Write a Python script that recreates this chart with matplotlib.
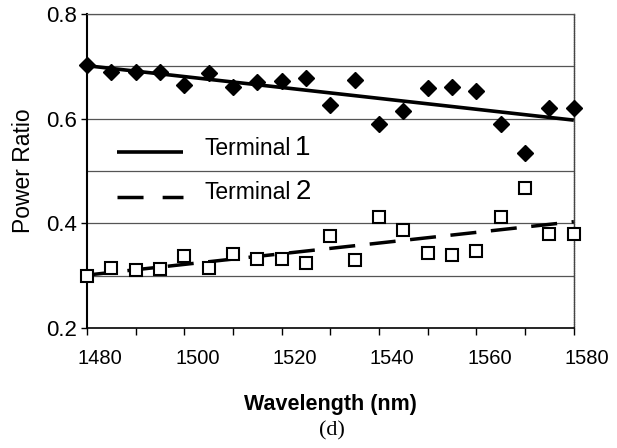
import numpy as np
import matplotlib
matplotlib.use("Agg")
import matplotlib.pyplot as plt
import matplotlib.transforms as mtransforms

plt.rcParams['font.family'] = 'Liberation Sans'

# wavelength grid (nm), one point every 5 nm
wavelength = [1480, 1485, 1490, 1495, 1500, 1505, 1510, 1515, 1520, 1525, 1530,
              1535, 1540, 1545, 1550, 1555, 1560, 1565, 1570, 1575, 1580]

terminal1 = [0.702, 0.689, 0.689, 0.689, 0.664, 0.688, 0.661, 0.669, 0.671, 0.678, 0.625,
             0.674, 0.589, 0.615, 0.658, 0.661, 0.653, 0.589, 0.534, 0.621, 0.621]
terminal2 = [0.299, 0.314, 0.311, 0.312, 0.338, 0.315, 0.341, 0.331, 0.332, 0.324, 0.376,
             0.330, 0.412, 0.387, 0.344, 0.339, 0.347, 0.412, 0.467, 0.379, 0.379]

# linear trend lines (end points)
trend_x = [1480, 1580]
trend1 = [0.701, 0.597]
trend2 = [0.301, 0.403]

xticks = list(range(1480, 1581, 10))
xlabels = [str(x) if (x - 1480) % 20 == 0 else "" for x in xticks]
yticks = [0.2, 0.4, 0.6, 0.8]
ygrid = [0.3, 0.4, 0.5, 0.6, 0.7, 0.8]

fig = plt.figure(figsize=(6.17, 4.48), dpi=100)
ax = fig.add_axes([0.141, 0.268, 0.789, 0.701])

for g in ygrid:
    ax.axhline(g, color='#555555', lw=0.9, zorder=1)

ax.plot(trend_x, trend1, color='black', lw=2.6, zorder=3, solid_capstyle='butt')
ax.plot(trend_x, trend2, color='black', lw=2.5, zorder=3, dashes=(7.5, 4.2))
ax.plot(wavelength, terminal1, ls='none', marker='D', ms=8.5, color='black',
        zorder=4, clip_on=False)
ax.plot(wavelength, terminal2, ls='none', marker='s', ms=8.5, mfc='white',
        mec='black', mew=1.5, zorder=4, clip_on=False)

ax.set_xlim(1480, 1580)
ax.set_ylim(0.2, 0.8)
ax.set_xticks(xticks)
ax.set_xticklabels(xlabels, fontsize=14.5)
ax.set_yticks(yticks)
ax.set_yticklabels(["0.2", "0.4", "0.6", "0.8"], fontsize=16)
ax.tick_params(axis='x', direction='out', length=5, width=1, pad=10)
ax.tick_params(axis='y', direction='out', length=4, width=1, pad=3)

# tick labels sit a bit right of their ticks in the original
shift = mtransforms.ScaledTranslation(13 / 100, 0, fig.dpi_scale_trans)
for lab in ax.get_xticklabels():
    lab.set_transform(lab.get_transform() + shift)

ax.spines['left'].set_linewidth(1.5)
ax.spines['bottom'].set_linewidth(1.2)
ax.spines['top'].set_color('#555555')
ax.spines['top'].set_linewidth(0.9)
ax.spines['right'].set_color('#444444')
ax.spines['right'].set_linewidth(1.0)
ax.spines['right'].set_linestyle((0, (1, 0.6)))

ax.set_ylabel("Power Ratio", fontsize=16.5, labelpad=8)
ax.set_xlabel("Wavelength (nm)", fontsize=15.5, fontweight='bold', labelpad=19)

# legend, drawn by hand so the digits can be larger
ax.plot([0.062, 0.197], [0.561, 0.561], transform=ax.transAxes, color='black',
        lw=2.6, solid_capstyle='butt', zorder=5)
ax.plot([0.062, 0.197], [0.417, 0.417], transform=ax.transAxes, color='black',
        lw=2.5, dashes=(7.5, 5.5), zorder=5)
t1 = ax.text(0.242, 0.572, "Terminal", transform=ax.transAxes, fontsize=16.5,
             va='center', ha='left')
t2 = ax.text(0.242, 0.432, "Terminal", transform=ax.transAxes, fontsize=16.5,
             va='center', ha='left')
ax.annotate("1", xy=(1, 0), xycoords=t1, fontsize=20, va='bottom', ha='left',
            xytext=(3, -1), textcoords='offset points')
ax.annotate("2", xy=(1, 0), xycoords=t2, fontsize=20, va='bottom', ha='left',
            xytext=(3, -1), textcoords='offset points')

fig.text(0.538, 0.038, "(d)", fontsize=16, family='Liberation Serif',
         ha='center', va='center')

fig.savefig("out.png", dpi=100)
